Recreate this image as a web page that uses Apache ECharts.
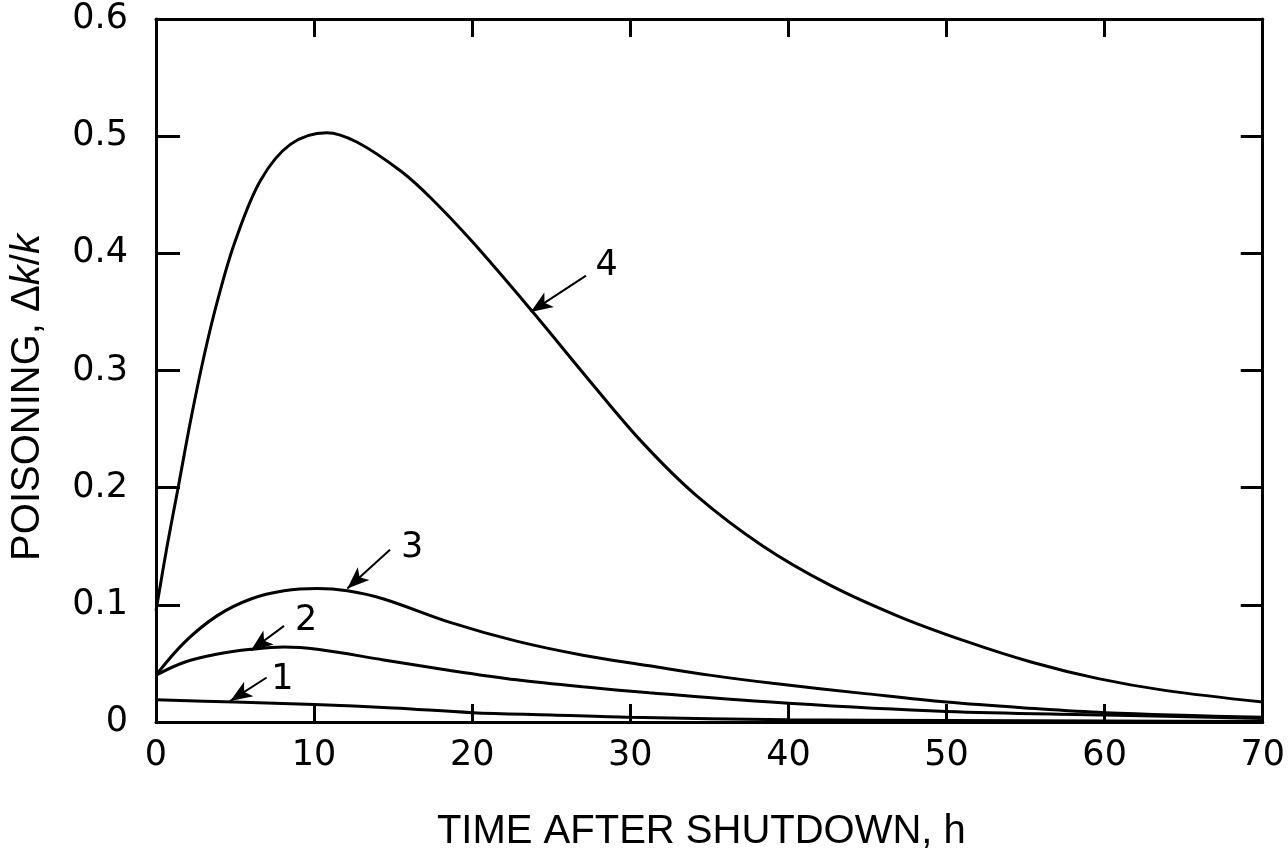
<!DOCTYPE html>
<html>
<head>
    <meta charset="UTF-8">
    <title>Xenon poisoning after shutdown</title>
    <script src="https://cdn.jsdelivr.net/npm/echarts@6/dist/echarts.min.js"></script>
    <style>
        html, body { margin: 0; padding: 0; background: #fff; }
        #chart { width: 1288px; height: 858px; }
    </style>
</head>
<body>
    <div id="chart"></div>
    <script>
        // time after shutdown (h) and poisoning (dk/k)
        var t1 = [0, 5, 10, 15, 20, 25, 30, 40, 50, 60, 70];
        var p1 = [0.019, 0.017, 0.015, 0.012, 0.008, 0.006, 0.004, 0.002, 0.0012, 0.0008, 0.0005];

        var t2 = [0, 1.8, 3.9, 6.0, 8.1, 10.2, 14.4, 18.6, 22.8, 27, 31.2, 40, 50, 60, 70];
        var p2 = [0.040, 0.051, 0.058, 0.062, 0.064, 0.062, 0.053, 0.044, 0.036, 0.030, 0.025, 0.016, 0.009, 0.006, 0.003];

        var t3 = [0, 1.8, 3.9, 6.0, 8.1, 10.2, 12.1, 14.4, 18.6, 22.8, 27, 31.2, 35, 39, 45, 50, 55, 60, 70];
        var p3 = [0.040, 0.068, 0.091, 0.105, 0.112, 0.114, 0.112, 0.105, 0.085, 0.069, 0.057, 0.048, 0.040, 0.033, 0.024, 0.017, 0.012, 0.008, 0.004];

        var t4 = [0, 0.7, 1.4, 2.2, 3.05, 3.9, 5.0, 6.6, 8.5, 10.8, 12.7, 15.5, 17.4, 20, 23.7, 27.5, 30.8, 34.2, 38.4, 42.6, 47, 51.2, 55.4, 59.6, 63.8, 70];
        var p4 = [0.095, 0.150, 0.200, 0.258, 0.313, 0.360, 0.410, 0.462, 0.493, 0.503, 0.495, 0.470, 0.447, 0.410, 0.352, 0.290, 0.238, 0.193, 0.150, 0.117, 0.090, 0.069, 0.051, 0.037, 0.027, 0.017];

        var xTicks = [0, 10, 20, 30, 40, 50, 60, 70];
        var yTicks = [0, 0.1, 0.2, 0.3, 0.4, 0.5, 0.6];

        // curve callouts: number, arrow tail, arrow head (on the curve)
        var callNames = ['1', '2', '3', '4'];
        var callText = [[8.0, 0.036], [9.5, 0.086], [16.2, 0.149], [28.5, 0.389]];
        var callTail = [[7.0, 0.038], [8.1, 0.082], [14.8, 0.147], [27.2, 0.381]];
        var callHead = [[4.7, 0.018], [6.0, 0.061], [12.1, 0.114], [23.7, 0.350]];

        function pairs(xs, ys) {
            return xs.map(function (x, i) { return [x, ys[i]]; });
        }

        var font = 'Liberation Sans, Arial, Helvetica, sans-serif';
        var digitFont = 'DejaVu Sans, Liberation Sans, sans-serif';
        var chart = echarts.init(document.getElementById('chart'), null, {renderer: 'canvas'});

        var frameLine = {show: true, onZero: false, lineStyle: {color: '#000', width: 3}};

        function curve(name, xs, ys, i) {
            return {
                name: name,
                type: 'line',
                data: pairs(xs, ys),
                showSymbol: false,
                smooth: 0.35,
                lineStyle: {color: '#000', width: 3},
                markLine: {
                    silent: true,
                    symbol: ['none', 'arrow'],
                    symbolSize: [13, 22],
                    label: {show: false},
                    lineStyle: {color: '#000', width: 2, type: 'solid'},
                    data: [[{coord: callTail[i]}, {coord: callHead[i]}]]
                },
                z: 3
            };
        }

        var option = {
            animation: false,
            backgroundColor: '#fff',
            grid: {left: 155, right: 22, top: 19, bottom: 136},
            xAxis: [
                {
                    type: 'value', min: 0, max: 70, interval: 10,
                    name: 'TIME AFTER SHUTDOWN, h',
                    nameLocation: 'middle', nameGap: 90,
                    nameTextStyle: {color: '#000', fontSize: 40, fontFamily: font, padding: [0, 16, 0, 0]},
                    axisLine: frameLine, splitLine: {show: false},
                    axisLabel: {color: '#000', fontSize: 35, fontFamily: digitFont, margin: 16,
                        formatter: function (v) { return xTicks.indexOf(v) >= 0 ? String(v) : ''; }},
                    axisTick: {show: true, inside: true, length: 18, lineStyle: {color: '#000', width: 3}}
                },
                {
                    type: 'value', min: 0, max: 70, interval: 10, position: 'top',
                    axisLine: frameLine, splitLine: {show: false},
                    axisLabel: {show: false},
                    axisTick: {show: true, inside: true, length: 18, lineStyle: {color: '#000', width: 3}}
                }
            ],
            yAxis: [
                {
                    type: 'value', min: 0, max: 0.6, interval: 0.1,
                    name: 'POISONING, \u0394{i|k}/{i|k}',
                    nameLocation: 'middle', nameGap: 108,
                    nameTextStyle: {color: '#000', fontSize: 40, fontFamily: font, padding: [0, 54, 0, 0],
                        rich: {i: {fontStyle: 'italic', fontSize: 40, fontFamily: font, color: '#000'}}},
                    axisLine: frameLine, splitLine: {show: false},
                    axisLabel: {color: '#000', fontSize: 35, fontFamily: digitFont, margin: 28,
                        formatter: function (v) {
                            var r = Math.round(v * 10) / 10;
                            return yTicks.indexOf(r) >= 0 ? (r === 0 ? '0' : r.toFixed(1)) : '';
                        }},
                    axisTick: {show: true, inside: true, length: 24, lineStyle: {color: '#000', width: 3}}
                },
                {
                    type: 'value', min: 0, max: 0.6, interval: 0.1, position: 'right',
                    axisLine: frameLine, splitLine: {show: false},
                    axisLabel: {show: false},
                    axisTick: {show: true, inside: true, length: 22, lineStyle: {color: '#000', width: 3}}
                }
            ],
            series: [
                curve('1', t1, p1, 0),
                curve('2', t2, p2, 1),
                curve('3', t3, p3, 2),
                curve('4', t4, p4, 3),
                {
                    name: 'labels',
                    type: 'scatter',
                    symbolSize: 0,
                    silent: true,
                    itemStyle: {opacity: 1},
                    data: callText.map(function (c, i) { return {name: callNames[i], value: c}; }),
                    label: {
                        show: true, position: 'inside',
                        formatter: '{b}', opacity: 1,
                        color: '#000', fontSize: 35, fontFamily: digitFont
                    },
                    z: 4
                }
            ]
        };

        chart.setOption(option);
    </script>
</body>
</html>
